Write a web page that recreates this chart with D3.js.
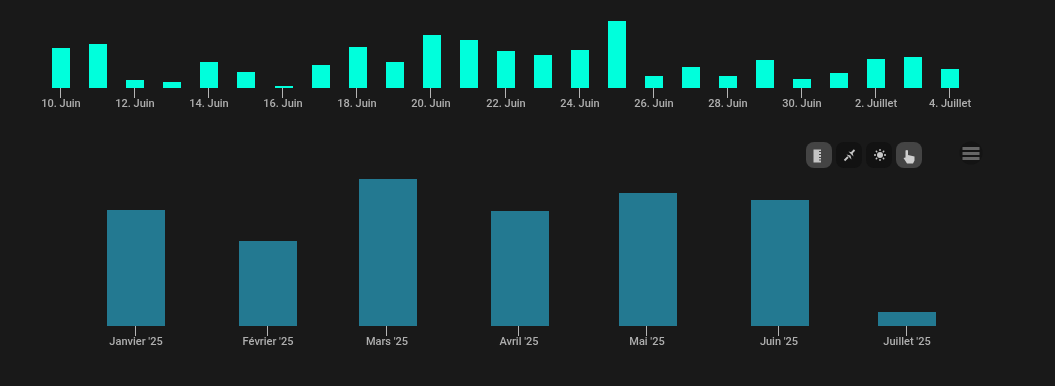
<!DOCTYPE html>
<html>
<head>
<meta charset="utf-8">
<script src="https://cdn.jsdelivr.net/npm/d3@7"></script>
<style>
    html, body { margin: 0; padding: 0; background: #191919; overflow: hidden; }
    svg { display: block; }
    text { font-family: Roboto, sans-serif; }
</style>
</head>
<body>
<div id="chart"></div>
<script>
// daily values, 10 june -> 4 july (read in pixels off the picture)
const dayDates = ["2025-06-10","2025-06-11","2025-06-12","2025-06-13","2025-06-14","2025-06-15","2025-06-16",
    "2025-06-17","2025-06-18","2025-06-19","2025-06-20","2025-06-21","2025-06-22","2025-06-23","2025-06-24",
    "2025-06-25","2025-06-26","2025-06-27","2025-06-28","2025-06-29","2025-06-30","2025-07-01","2025-07-02",
    "2025-07-03","2025-07-04"];
const dayValues = [40,44,8,6,26,16,2,23,41,26,53,48,37,33,38,67,12,21,12,28,9,15,29,31,19];
const dayTickLabels = ["10. Juin","12. Juin","14. Juin","16. Juin","18. Juin","20. Juin","22. Juin","24. Juin",
    "26. Juin","28. Juin","30. Juin","2. Juillet","4. Juillet"];

// monthly values
const monthDates = ["2025-01-01","2025-02-01","2025-03-01","2025-04-01","2025-05-01","2025-06-01","2025-07-01"];
const monthValues = [116,85,147,115,133,126,14];
const monthLabels = ["Janvier '25","Février '25","Mars '25","Avril '25","Mai '25","Juin '25","Juillet '25"];

const svg = d3.select("#chart").append("svg")
    .attr("width", 1055)
    .attr("height", 386);

// =========================
// TOP CHART
// =========================
const xDay = d3.scaleBand()
    .domain(dayDates)
    .range([42.2, 968.45])
    .paddingInner(0.514)
    .paddingOuter(0.257);

const yDay = d3.scaleLinear().domain([0, 67]).range([88, 21]);

svg.append("g").selectAll("rect")
    .data(dayDates)
    .join("rect")
    .attr("x", d => Math.ceil(xDay(d)))
    .attr("y", (d, i) => yDay(dayValues[i]))
    .attr("width", 18)
    .attr("height", (d, i) => yDay(0) - yDay(dayValues[i]))
    .attr("fill", "#00ffdc");

const dayAxis = d3.axisBottom(xDay)
    .tickValues(dayDates.filter((d, i) => i % 2 === 0))
    .tickFormat((d, i) => dayTickLabels[i])
    .tickSize(10)
    .tickSizeOuter(0)
    .tickPadding(0)
    .offset(0);

svg.append("g")
    .attr("transform", "translate(0,88)")
    .call(styleAxis, dayAxis, d => xDay(d) + xDay.bandwidth() / 2 - 0.32);

// =========================
// BOTTOM CHART (time axis, months are not the same width)
// =========================
const xMonth = d3.scaleUtc()
    .domain([new Date("2025-01-01"), new Date("2025-07-01")])
    .range([135.5, 906.56]);

const yMonth = d3.scaleLinear().domain([0, 147]).range([326, 179]);

svg.append("g").selectAll("rect")
    .data(monthDates)
    .join("rect")
    .attr("x", d => Math.ceil(xMonth(new Date(d)) - 28.6))
    .attr("y", (d, i) => yMonth(monthValues[i]))
    .attr("width", 58)
    .attr("height", (d, i) => yMonth(0) - yMonth(monthValues[i]))
    .attr("fill", "#237991");

const monthAxis = d3.axisBottom(xMonth)
    .tickValues(monthDates.map(d => new Date(d)))
    .tickFormat((d, i) => monthLabels[i])
    .tickSize(10)
    .tickSizeOuter(0)
    .tickPadding(0)
    .offset(0);

svg.append("g")
    .attr("transform", "translate(0,326)")
    .call(styleAxis, monthAxis, d => xMonth(d));

function styleAxis(g, axis, pos) {
    g.call(axis);
    g.select(".domain").remove();
    // keep the labels free of coloured fringes
    g.style("filter", "grayscale(1)");
    // snap ticks on whole pixels so they stay 1px wide
    g.selectAll(".tick").attr("transform", d => `translate(${Math.floor(pos(d)) + 0.5},0)`);
    g.selectAll(".tick line").attr("stroke", "#b5b5b5");
    g.selectAll(".tick text")
        .attr("fill", "#aeaeae")
        .attr("font-size", 11)
        .attr("font-weight", 500)
        .attr("dy", "0.71em")
        .attr("x", 0.5)
        .attr("y", 11);
}

// =========================
// TOOLBAR
// =========================
const toolbar = svg.append("g");
const buttons = [
    { x: 806, fill: "#444444" },
    { x: 836, fill: "#121212" },
    { x: 866, fill: "#121212" },
    { x: 896, fill: "#444444" }
];
toolbar.selectAll("rect")
    .data(buttons)
    .join("rect")
    .attr("x", d => d.x)
    .attr("y", 142)
    .attr("width", 26)
    .attr("height", 26)
    .attr("rx", 8)
    .attr("fill", d => d.fill);

// ruler
toolbar.append("rect").attr("x", 813.5).attr("y", 149.5).attr("width", 7.5).attr("height", 13).attr("fill", "#c4c4c4");
toolbar.append("path").attr("d", "M819 151.5h2M819 154.5h2M819 157.5h2M819 160h2").attr("stroke", "#444444").attr("fill", "none");
// zoom arrows
toolbar.append("path")
    .attr("d", "M844.5 160.5L848 157M851 153.5L854.5 150")
    .attr("stroke", "#c4c4c4").attr("stroke-width", 1.8).attr("fill", "none");
toolbar.append("path")
    .attr("d", "M846.5 154.5l5 5l-1 -4l-4 -1zM848.5 151.5l5 5l-1 -4l-4 -1z")
    .attr("fill", "#c4c4c4");
// selection sun
toolbar.append("circle").attr("cx", 880).attr("cy", 155).attr("r", 3).attr("fill", "#c8c8c8");
toolbar.append("path")
    .attr("d", "M880 149v2M880 159v2M874 155h2M884 155h2M875.8 150.8l1.4 1.4M882.8 157.8l1.4 1.4M875.8 159.2l1.4 -1.4M882.8 152.2l1.4 -1.4")
    .attr("stroke", "#c8c8c8").attr("stroke-width", 1.3);
// hand
toolbar.append("path")
    .attr("d", "M905.5 150.5q1.5 -1 2.5 0v4.5l6.5 1.5v4l-1.5 3h-6l-3.5 -5.5l2 -.5z")
    .attr("fill", "#cfcfcf");

// hamburger menu
toolbar.append("circle").attr("cx", 971).attr("cy", 153).attr("r", 11.5).attr("fill", "#141414");
toolbar.selectAll(".bar")
    .data([148.5, 153.5, 158.5])
    .join("rect")
    .attr("class", "bar")
    .attr("x", 962.5)
    .attr("y", d => d - 1.5)
    .attr("width", 17)
    .attr("height", 3)
    .attr("fill", "#666666");
</script>
</body>
</html>
